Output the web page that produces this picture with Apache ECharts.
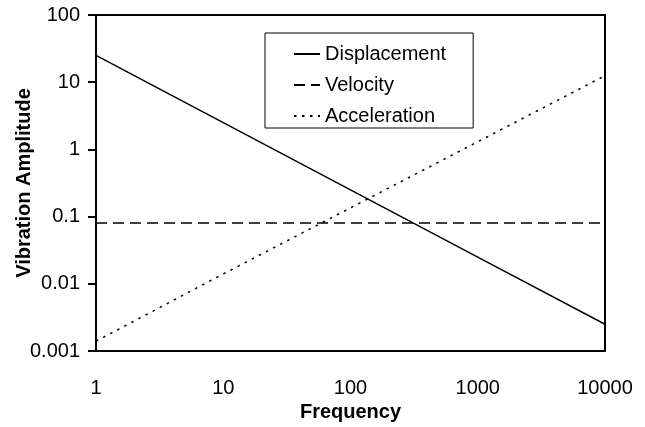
<!DOCTYPE html>
<html>
<head>
<meta charset="utf-8">
<script src="https://cdn.jsdelivr.net/npm/echarts@6/dist/echarts.min.js"></script>
<style>
html,body{margin:0;padding:0;background:#fff;}
#c{width:645px;height:427px;}
</style>
</head>
<body>
<div id="c"></div>
<script>
const frequency = [1, 10, 100, 1000, 10000];
const displacement = [25, 2.5, 0.25, 0.025, 0.0025];
const velocity = [0.08, 0.08, 0.08, 0.08, 0.08];
const acceleration = [0.0014, 0.014, 0.135, 1.3, 12.5];
const xTickLabels = ['1', '10', '100', '1000', '10000'];
const yTickLabels = ['0.001', '0.01', '0.1', '1', '10', '100'];

const font = 'Liberation Sans, Arial, sans-serif';

function pairs(xs, ys) { return xs.map((x, i) => [x, ys[i]]); }
function labelFor(arr, base) {
  return function (v) {
    const k = Math.round(Math.log10(v)) - base;
    return arr[k] !== undefined ? arr[k] : '';
  };
}

const chart = echarts.init(document.getElementById('c'), null, {renderer: 'canvas'});
chart.setOption({
  animation: false,
  backgroundColor: '#fff',
  grid: {left: 96, right: 40, top: 15, bottom: 76, outerBoundsMode: 'none', containLabel: false,
         show: true, borderColor: '#000', borderWidth: 2, backgroundColor: 'transparent'},
  legend: {
    orient: 'vertical',
    left: 265, top: 33,
    padding: [11, 27, 2, 28],
    itemGap: 11,
    itemWidth: 26, itemHeight: 14,
    borderColor: '#000', borderWidth: 1,
    backgroundColor: '#fff',
    itemStyle: {opacity: 0},
    textStyle: {fontFamily: font, fontSize: 20, color: '#000'},
    data: ['Displacement', 'Velocity', 'Acceleration']
  },
  xAxis: {
    type: 'log', logBase: 10, min: 1, max: 10000,
    name: 'Frequency', nameLocation: 'middle', nameGap: 51, nameMoveOverlap: false,
    nameTextStyle: {fontFamily: font, fontSize: 20, fontWeight: 'bold', color: '#000'},
    axisLine: {lineStyle: {color: '#000', width: 2}},
    axisTick: {show: false},
    minorTick: {show: false},
    splitLine: {show: false},
    axisLabel: {margin: 27, fontFamily: font, fontSize: 20, color: '#000', formatter: labelFor(xTickLabels, 0)}
  },
  yAxis: {
    type: 'log', logBase: 10, min: 0.001, max: 100,
    name: 'Vibration Amplitude', nameLocation: 'middle', nameGap: 62, nameMoveOverlap: false,
    nameTextStyle: {fontFamily: font, fontSize: 20, fontWeight: 'bold', color: '#000'},
    axisLine: {lineStyle: {color: '#000', width: 2}},
    axisTick: {show: true, inside: false, length: 8, lineStyle: {color: '#000', width: 2}},
    splitLine: {show: false},
    axisLabel: {margin: 16, fontFamily: font, fontSize: 20, color: '#000', formatter: labelFor(yTickLabels, -3)}
  },
  series: [
    {name: 'Displacement', type: 'line', showSymbol: false, symbol: 'none', data: pairs(frequency, displacement),
     lineStyle: {color: '#000', width: 1.5, type: 'solid'}, itemStyle: {color: '#000'}},
    {name: 'Velocity', type: 'line', showSymbol: false, symbol: 'none', data: pairs(frequency, velocity),
     lineStyle: {color: '#000', width: 1.5, type: [11, 6]}, itemStyle: {color: '#000'}},
    {name: 'Acceleration', type: 'line', showSymbol: false, symbol: 'none', data: pairs(frequency, acceleration),
     lineStyle: {color: '#000', width: 1.5, type: [2.5, 5.5]}, itemStyle: {color: '#000'}}
  ]
});
</script>
</body>
</html>
